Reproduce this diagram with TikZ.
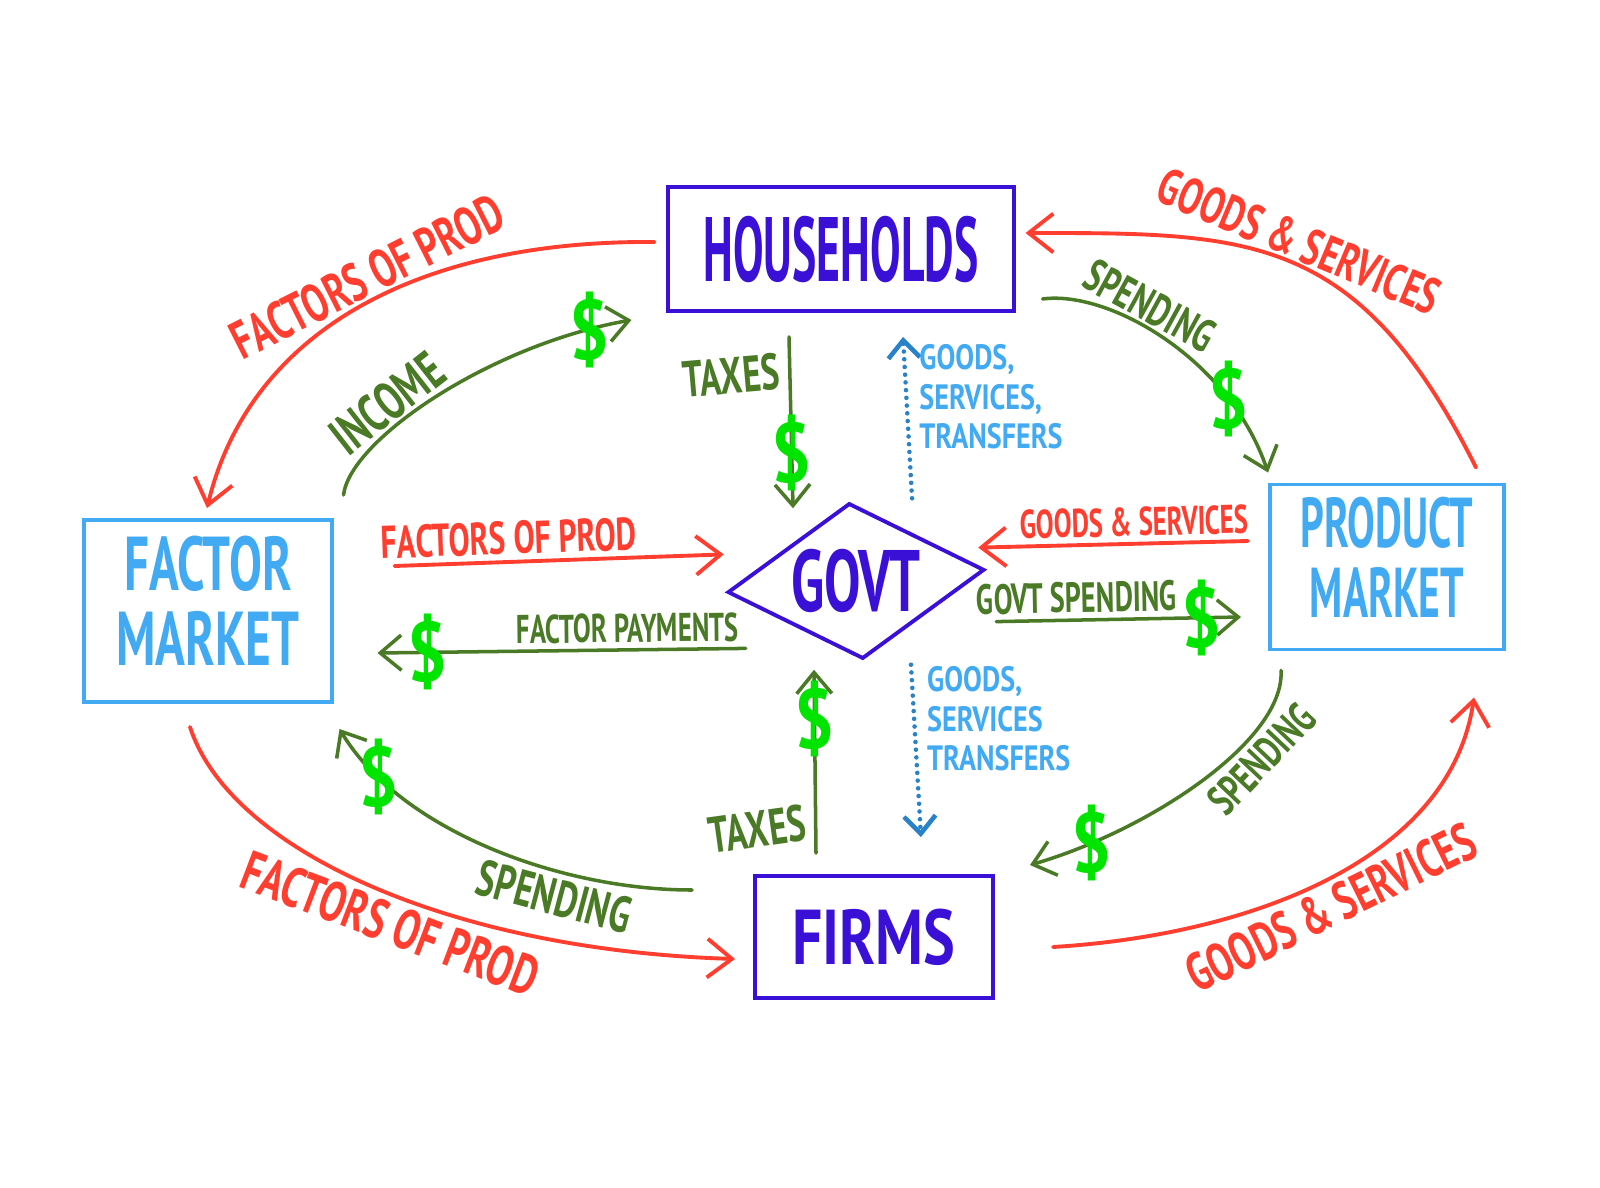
\documentclass[tikz,border=0pt]{standalone}
\usepackage{fontspec}
\setmainfont{PT Sans}
\usepackage{tikz}
\usetikzlibrary{arrows.meta,positioning,calc,shapes.geometric}
\definecolor{agentblue}{RGB}{58,16,214}
\definecolor{marketblue}{RGB}{66,170,242}
\definecolor{realred}{RGB}{255,62,48}
\definecolor{moneygreen}{RGB}{74,122,38}
\definecolor{dollargreen}{RGB}{0,228,0}
\definecolor{dotblue}{RGB}{40,130,200}
\newcommand{\hw}[2][1.45]{\scalebox{1}[#1]{#2}}

\begin{document}
\begin{tikzpicture}[x=0.01cm, y=-0.01cm,
    every node/.style={font=\fontsize{10}{12}\selectfont},
    agent/.style={draw=agentblue, text=agentblue, line width=1.1pt, inner sep=0pt},
    market/.style={draw=marketblue, text=marketblue, line width=1.1pt, inner sep=0pt},
    govt/.style={diamond, aspect=1.65, draw=agentblue, text=agentblue, line width=1.1pt, inner sep=0pt, minimum width=2.48cm, font=\fontsize{15.5}{16}\selectfont\bfseries},
    realflow/.style={realred, line width=1.1pt, line cap=round, -{Straight Barb[length=7pt, width=11pt]}},
    cashflow/.style={moneygreen, line width=1pt, line cap=round, -{Straight Barb[length=6pt, width=10pt]}},
    govflow/.style={dotblue, line width=1.3pt, line cap=round, dash pattern=on 0pt off 2.2pt, -{Straight Barb[length=5pt, width=9pt]}},
    lbl/.style={font=\fontsize{10}{12}\selectfont, inner sep=0.5pt},
    dollar/.style={text=dollargreen, font=\fontsize{20}{20}\selectfont\bfseries, inner sep=0pt},
    govlbl/.style={text=marketblue, font=\fontsize{8}{9}\selectfont\bfseries, inner sep=3pt},
]
\fill[white] (0,0) rectangle (1600,1188);
\useasboundingbox (0,0) rectangle (1600,1188);

\node[agent, minimum width=3.45cm, minimum height=1.24cm, font=\fontsize{13}{14}\selectfont\bfseries] (hh) at (841,249) {\hw[2]{HOUSEHOLDS}};
\node[market, minimum width=2.47cm, minimum height=1.82cm, font=\fontsize{14}{12.5}\selectfont\bfseries] (fm) at (208,611) {\hw[1.55]{\begin{tabular}{@{}c@{}}FACTOR\\MARKET\end{tabular}}};
\node[market, minimum width=2.34cm, minimum height=1.65cm, font=\fontsize{11.8}{11}\selectfont\bfseries] (pm) at (1387,567) {\hw[1.7]{\begin{tabular}{@{}c@{}}PRODUCT\\MARKET\end{tabular}}};
\node[govt, rotate=5] (gov) at (856,581) {\rotatebox{-5}{\hw[1.6]{GOVT}}};
\node[agent, minimum width=2.38cm, minimum height=1.22cm, font=\fontsize{17}{18}\selectfont\bfseries] (firms) at (874,937) {\hw[1.3]{FIRMS}};

\draw[realflow] ([shift={(-12,-7)}]hh.west) .. controls (420,240) and (250,330) .. ([shift={(-1,-10)}]fm.north)
    node[lbl, sloped, above, pos=0.46, font=\fontsize{10.5}{12}\selectfont\bfseries] (fopA) {\hw{FACTORS OF PROD}};
\draw[cashflow] ([shift={(10,-23)}]fm.north east) .. controls (350,440) and (490,345) .. ([shift={(-35,7)}]hh.south west)
    node[lbl, sloped, above, pos=0.38, font=\fontsize{10.5}{12}\selectfont\bfseries] (inc) {\hw{INCOME}}
    node[dollar, pos=0.9] (dA) {\hw[1.2]{\$}};
\draw[realflow] ([shift={(-30,-15)}]pm.north east) .. controls (1358,232) and (1250,233) .. ([shift={(10,-16)}]hh.east)
    node[lbl, sloped, above, pos=0.5, font=\fontsize{10}{12}\selectfont\bfseries] (gsA) {\hw{GOODS \& SERVICES}};
\draw[cashflow] ([shift={(27,-14)}]hh.south east) .. controls (1110,290) and (1230,360) .. ([shift={(0,-10)}]pm.north west)
    node[lbl, sloped, above, pos=0.4, font=\fontsize{9}{12}\selectfont\bfseries] (spA) {\hw{SPENDING}}
    node[dollar, pos=0.76] (dB) {\hw[1.2]{\$}};

\draw[cashflow] ([shift={(-52,24)}]hh.south) -- ([shift={(-56,7)}]gov.north)
    node[lbl, left=2pt, pos=0.2, rotate=5, font=\fontsize{10}{12}\selectfont\bfseries] (taxA) {\hw{TAXES}}
    node[dollar, pos=0.68] (dC) {\hw[1.2]{\$}};
\draw[govflow] ([shift={(63,-3)}]gov.north) -- ([shift={(62,24)}]hh.south)
    node[govlbl, right, pos=0.6] (gstA) {\hw[1.25]{\begin{tabular}{@{}l@{}}GOODS,\\SERVICES,\\TRANSFERS\end{tabular}}};

\draw[realflow] ([shift={(61,-45)}]fm.east) -- ([shift={(-2,-38)}]gov.west)
    node[lbl, sloped, above=1pt, pos=0.35, font=\fontsize{9}{12}\selectfont\bfseries] (fopB) {\hw{FACTORS OF PROD}};
\draw[cashflow] ([shift={(20,56)}]gov.west) -- ([shift={(44,42)}]fm.east)
    node[lbl, sloped, above=1pt, pos=0.32, font=\fontsize{7.6}{12}\selectfont\bfseries] (fpay) {\hw[1.5]{FACTOR PAYMENTS}}
    node[dollar, pos=0.865] (dD) {\hw[1.2]{\$}};
\draw[realflow] ([shift={(-20,-26)}]pm.west) -- ([shift={(-8,-22)}]gov.east)
    node[lbl, sloped, above=1pt, pos=0.42, font=\fontsize{7.6}{12}\selectfont\bfseries] (gsB) {\hw[1.5]{GOODS \& SERVICES}};
\draw[cashflow] ([shift={(10,52)}]gov.east) -- ([shift={(-27,50)}]pm.west)
    node[lbl, sloped, above=1pt, pos=0.33, font=\fontsize{8}{12}\selectfont\bfseries] (gspend) {\hw[1.5]{GOVT SPENDING}}
    node[dollar, pos=0.84] (dE) {\hw[1.2]{\$}};

\draw[cashflow] ([shift={(-58,-21)}]firms.north) -- ([shift={(-49,9)}]gov.south)
    node[lbl, left=2pt, pos=0.17, rotate=8, font=\fontsize{10}{12}\selectfont\bfseries] (taxB) {\hw{TAXES}}
    node[dollar, pos=0.73] (dF) {\hw[1.2]{\$}};
\draw[govflow] ([shift={(48,4)}]gov.south) -- ([shift={(47,-37)}]firms.north)
    node[govlbl, right, pos=0.34] (gstB) {\hw[1.25]{\begin{tabular}{@{}l@{}}GOODS,\\SERVICES\\TRANSFERS\end{tabular}}};

\draw[cashflow] ([shift={(-61,-47)}]firms.west) .. controls (560,890) and (400,830) .. ([shift={(6,25)}]fm.south east)
    node[lbl, sloped, below=1pt, pos=0.32, font=\fontsize{10}{12}\selectfont\bfseries] (spB) {\hw{SPENDING}}
    node[dollar, pos=0.83] (dG) {\hw[1.2]{\$}};
\draw[realflow] ([shift={(-18,23)}]fm.south) .. controls (230,850) and (450,950) .. ([shift={(-18,22)}]firms.west)
    node[lbl, sloped, below=1pt, pos=0.55, font=\fontsize{11}{12}\selectfont\bfseries] (fopC) {\hw{FACTORS OF PROD}};
\draw[cashflow] ([shift={(-106,19)}]pm.south) .. controls (1285,740) and (1150,830) .. ([shift={(35,-9)}]firms.north east)
    node[lbl, sloped, below=1pt, pos=0.33, font=\fontsize{8.5}{12}\selectfont\bfseries] (spC) {\hw{SPENDING}}
    node[dollar, pos=0.83] (dH) {\hw[1.2]{\$}};
\draw[realflow] ([shift={(58,10)}]firms.east) .. controls (1250,935) and (1450,860) .. ([shift={(-32,46)}]pm.south east)
    node[lbl, sloped, below=1pt, pos=0.48, font=\fontsize{10.5}{12}\selectfont\bfseries] (gsC) {\hw{GOODS \& SERVICES}};
\end{tikzpicture}
\end{document}
